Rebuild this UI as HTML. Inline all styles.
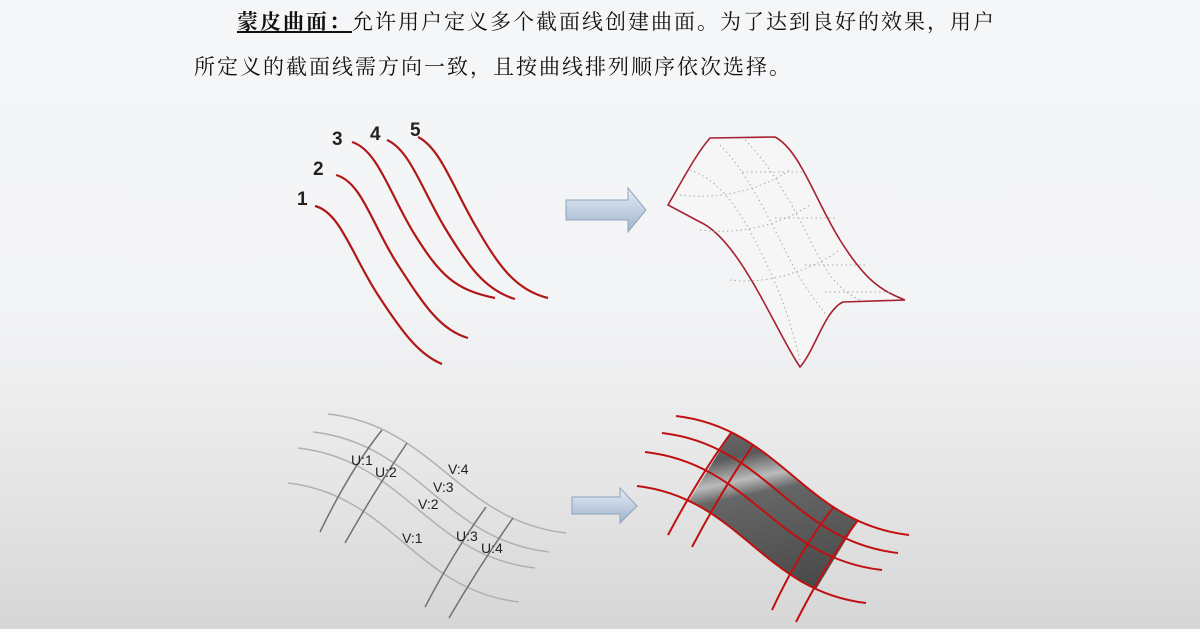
<!DOCTYPE html>
<html><head><meta charset="utf-8"><style>
html,body{margin:0;padding:0}
body{width:1200px;height:629px;overflow:hidden;background:linear-gradient(#f5f6f8 0px,#f3f4f6 300px,#e6e6e6 480px,#d6d6d6 629px);position:relative;font-family:"Liberation Serif","Noto Serif CJK SC",serif}
.t{position:absolute;font-size:21px;color:#111;white-space:nowrap;letter-spacing:2px}
</style></head><body>
<div class="t" style="left:237px;top:6px"><b style="text-decoration:underline">蒙皮曲面：</b>允许用户定义多个截面线创建曲面。为了达到良好的效果，用户</div>
<div class="t" style="left:194px;top:51px">所定义的截面线需方向一致，且按曲线排列顺序依次选择。</div>
<svg width="1200" height="629" style="position:absolute;left:0;top:0">
<defs>
<linearGradient id="ag" x1="0" y1="0" x2="0" y2="1"><stop offset="0" stop-color="#e4ecf6"/><stop offset="1" stop-color="#9fb4cc"/></linearGradient>
<linearGradient id="sg" x1="0" y1="0" x2="0.3" y2="1"><stop offset="0" stop-color="#7a7a7a"/><stop offset="0.3" stop-color="#5a5a5a"/><stop offset="0.42" stop-color="#bbb"/><stop offset="0.5" stop-color="#666"/><stop offset="1" stop-color="#4a4a4a"/></linearGradient>
<clipPath id="cp"><polygon points="745,410 872,497 790,632 655,556"/></clipPath>
</defs>
<g fill="none" stroke="#b01818" stroke-width="2.2">
<path d="M315,206 C340,212 352,255 378,295 S420,355 442,364"/>
<path d="M336,175 C362,182 372,225 398,265 S440,330 468,338"/>
<path d="M352,142 C378,150 390,195 415,235 S455,290 495,298"/>
<path d="M387,140 C410,150 422,190 445,228 S485,290 515,299"/>
<path d="M418,137 C440,148 452,185 475,225 S515,290 548,298"/>
</g>
<g font-family="Liberation Sans,sans-serif" font-weight="bold" font-size="19" fill="#222">
<text x="297" y="205">1</text><text x="313" y="175">2</text><text x="332" y="145">3</text><text x="370" y="140">4</text><text x="410" y="136">5</text>
</g>
<path d="M566,200 L628,200 L628,188 L646,210 L628,232 L628,220 L566,220 Z" fill="url(#ag)" stroke="#8fa3bb" stroke-width="1"/>
<path d="M572,497 L620,497 L620,488 L637,506 L620,523 L620,514 L572,514 Z" fill="url(#ag)" stroke="#8fa3bb" stroke-width="1"/>
<path d="M668,205 C680,185 695,155 710,138 L775,137 C800,150 815,200 840,240 S880,290 905,300 L843,302 C825,310 815,350 800,367 C775,330 740,240 700,222 Z" fill="#f6f6f6" stroke="#a52030" stroke-width="1.6"/>
<g fill="none" stroke="#aaa" stroke-width="1" stroke-dasharray="1.5,3">
<path d="M690,170 C720,180 740,210 760,250 S790,320 800,360"/>
<path d="M720,145 C745,170 765,210 785,250 S815,300 830,320"/>
<path d="M745,140 C770,165 790,200 810,240 S840,290 860,300"/>
<path d="M742,172 L805,172"/><path d="M775,218 L835,218"/><path d="M805,265 L865,265"/><path d="M825,292 L890,292"/>
<path d="M680,195 C720,200 760,190 790,170"/><path d="M700,230 C740,235 780,225 810,205"/><path d="M730,280 C770,285 810,270 840,250"/>
</g>
<g fill="none" stroke="#b0b0b0" stroke-width="1.5">
<path d="M328,414 C435,426 459,521 566,533"/>
<path d="M313,432 C419,444 443,540 549,552"/>
<path d="M298,448 C405,460 428,556 535,568"/>
<path d="M288,483 C392,495 415,590 519,602"/>
</g>
<g fill="none" stroke="#707070" stroke-width="1.5">
<path d="M382,430 Q350,470 320,532"/>
<path d="M407,443 Q375,490 345,543"/>
<path d="M486,507 Q455,550 425,607"/>
<path d="M513,518 Q480,565 449,618"/>
</g>
<g font-family="Liberation Sans,sans-serif" font-size="14" fill="#222">
<text x="351" y="465">U:1</text><text x="375" y="477">U:2</text><text x="448" y="474">V:4</text><text x="433" y="492">V:3</text><text x="418" y="509">V:2</text><text x="402" y="543">V:1</text><text x="456" y="541">U:3</text><text x="481" y="553">U:4</text>
</g>
<path d="M676,416 C781,428 804,523 909,535 L866,603 C763,591 740,498 637,486 Z" fill="url(#sg)" clip-path="url(#cp)"/>
<g fill="none" stroke="#c01010" stroke-width="2">
<path d="M676,416 C781,428 804,523 909,535"/>
<path d="M662,433 C768,445 792,541 898,553"/>
<path d="M645,452 C752,464 775,558 882,570"/>
<path d="M637,486 C740,498 763,591 866,603"/>
<path d="M731,433 Q700,475 668,535"/>
<path d="M753,445 Q722,490 692,547"/>
<path d="M833,508 Q800,550 772,610"/>
<path d="M858,520 Q825,565 796,622"/>
</g>
</svg>
</body></html>
